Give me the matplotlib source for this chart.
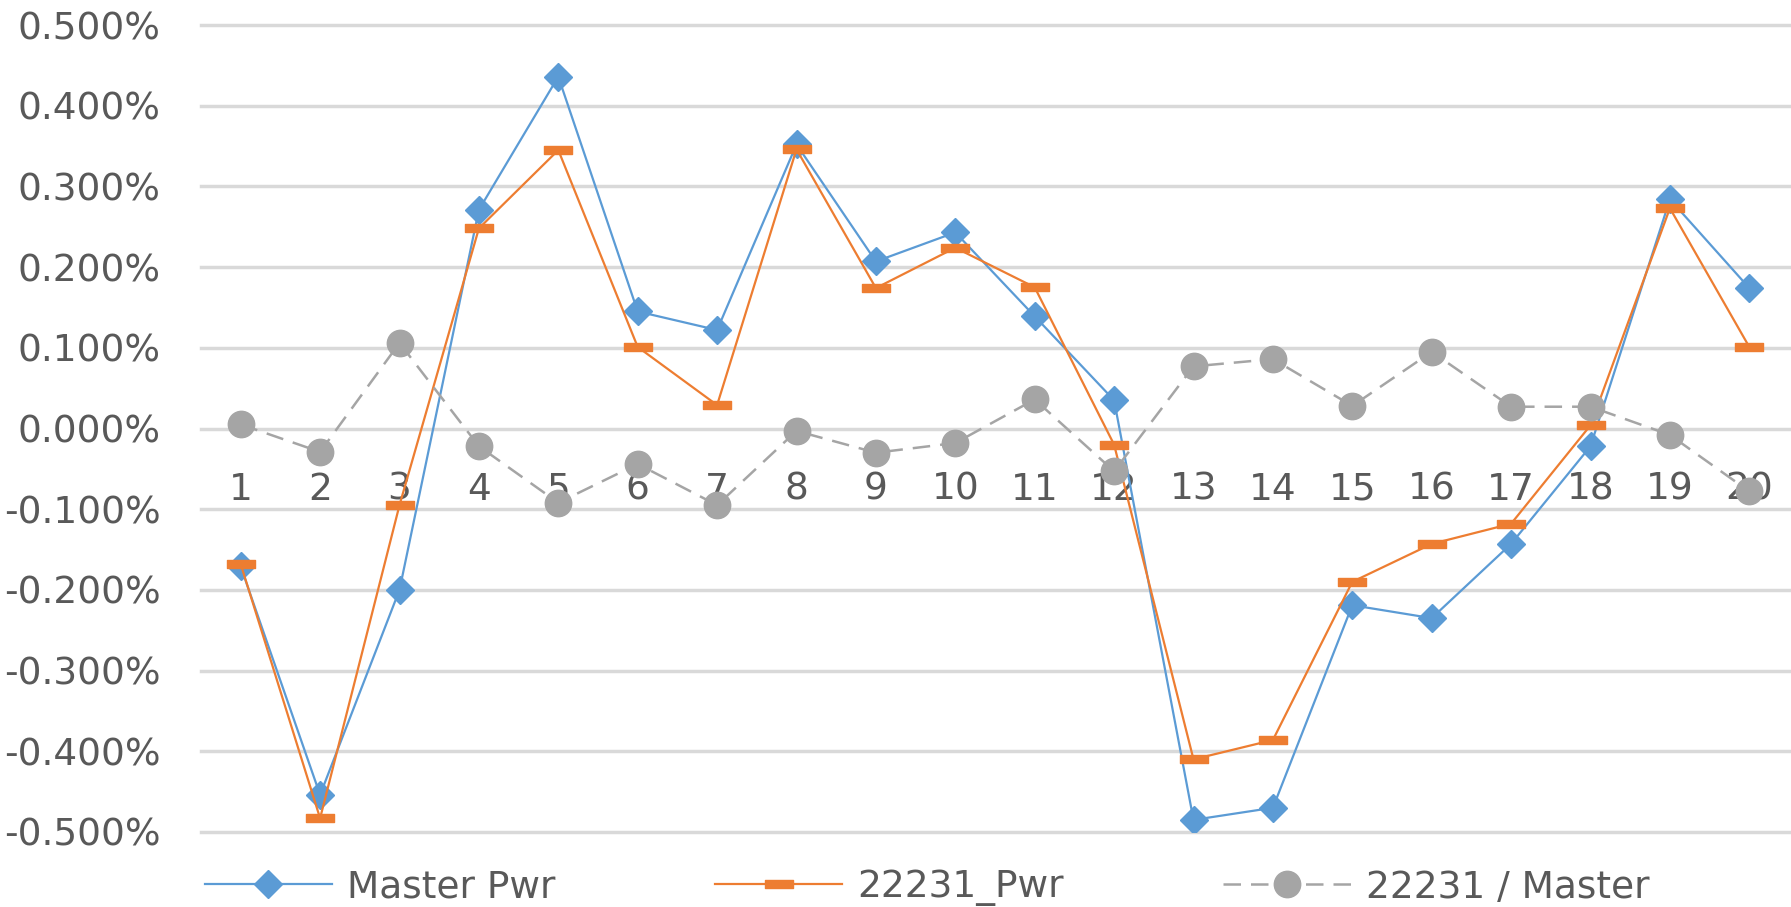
import matplotlib.pyplot as plt
from matplotlib.path import Path
from matplotlib.ticker import FuncFormatter, MultipleLocator

# data (values in percent)
points = list(range(1, 21))
master_pwr = [-0.171, -0.454, -0.200, 0.271, 0.436, 0.145, 0.122, 0.352, 0.207, 0.243,
              0.139, 0.035, -0.485, -0.470, -0.219, -0.235, -0.143, -0.022, 0.284, 0.174]
pwr_22231 = [-0.168, -0.483, -0.095, 0.248, 0.345, 0.101, 0.029, 0.346, 0.174, 0.224,
             0.175, -0.020, -0.410, -0.386, -0.190, -0.143, -0.118, 0.004, 0.273, 0.101]
ratio = [0.005, -0.029, 0.106, -0.022, -0.092, -0.044, -0.095, -0.003, -0.030, -0.018,
         0.036, -0.053, 0.077, 0.086, 0.028, 0.095, 0.027, 0.027, -0.008, -0.078]
series_names = ["Master Pwr", "22231_Pwr", "22231 / Master"]

plt.rcParams['font.family'] = ['DejaVu Sans']

fig = plt.figure(figsize=(17.91, 9.07), dpi=100)
ax = fig.add_axes([201 / 1791, 1 - 832 / 907, 1588 / 1791, 807 / 907])

# flat orange dash marker
dash = Path([(-1, -0.3), (1, -0.3), (1, 0.3), (-1, 0.3), (-1, -0.3)],
            [Path.MOVETO, Path.LINETO, Path.LINETO, Path.LINETO, Path.CLOSEPOLY])

ax.plot(points, master_pwr, color='#5B9BD5', lw=1.6, marker='D', ms=14,
        mec='#5B9BD5', mfc='#5B9BD5', label=series_names[0])
ax.plot(points, pwr_22231, color='#ED7D31', lw=1.6, marker=dash, ms=20,
        mec='#ED7D31', mfc='#ED7D31', label=series_names[1])
ax.plot(points, ratio, color='#A5A5A5', lw=1.8, ls=(0, (7, 4)), marker='o', ms=19,
        mec='#A5A5A5', mfc='#A5A5A5', label=series_names[2])

ax.set_xlim(0.5, 20.5)
ax.set_ylim(-0.5, 0.5)
ax.yaxis.set_major_locator(MultipleLocator(0.1))
ax.yaxis.set_major_formatter(FuncFormatter(lambda v, p: '{:.3f}%'.format(v)))
ax.set_xticks(points)
ax.set_xticklabels([str(p) for p in points])

ax.grid(axis='y', color='#D9D9D9', lw=2.5)
ax.set_axisbelow(True)
for gl in ax.get_ygridlines():
    gl.set_clip_on(False)
for s in ax.spines.values():
    s.set_visible(False)
ax.spines['bottom'].set_position(('data', 0))

ax.tick_params(axis='both', length=0, labelsize=27, labelcolor='#595959')
ax.tick_params(axis='x', pad=31)
ax.tick_params(axis='y', pad=29)

leg = fig.legend(loc='center', bbox_to_anchor=(927 / 1791, 1 - 888 / 907), ncol=3,
                 frameon=False, fontsize=27, handlelength=3.4, handletextpad=0.4,
                 columnspacing=4.25, labelcolor='#595959')

fig.savefig('out.png', dpi=100)
